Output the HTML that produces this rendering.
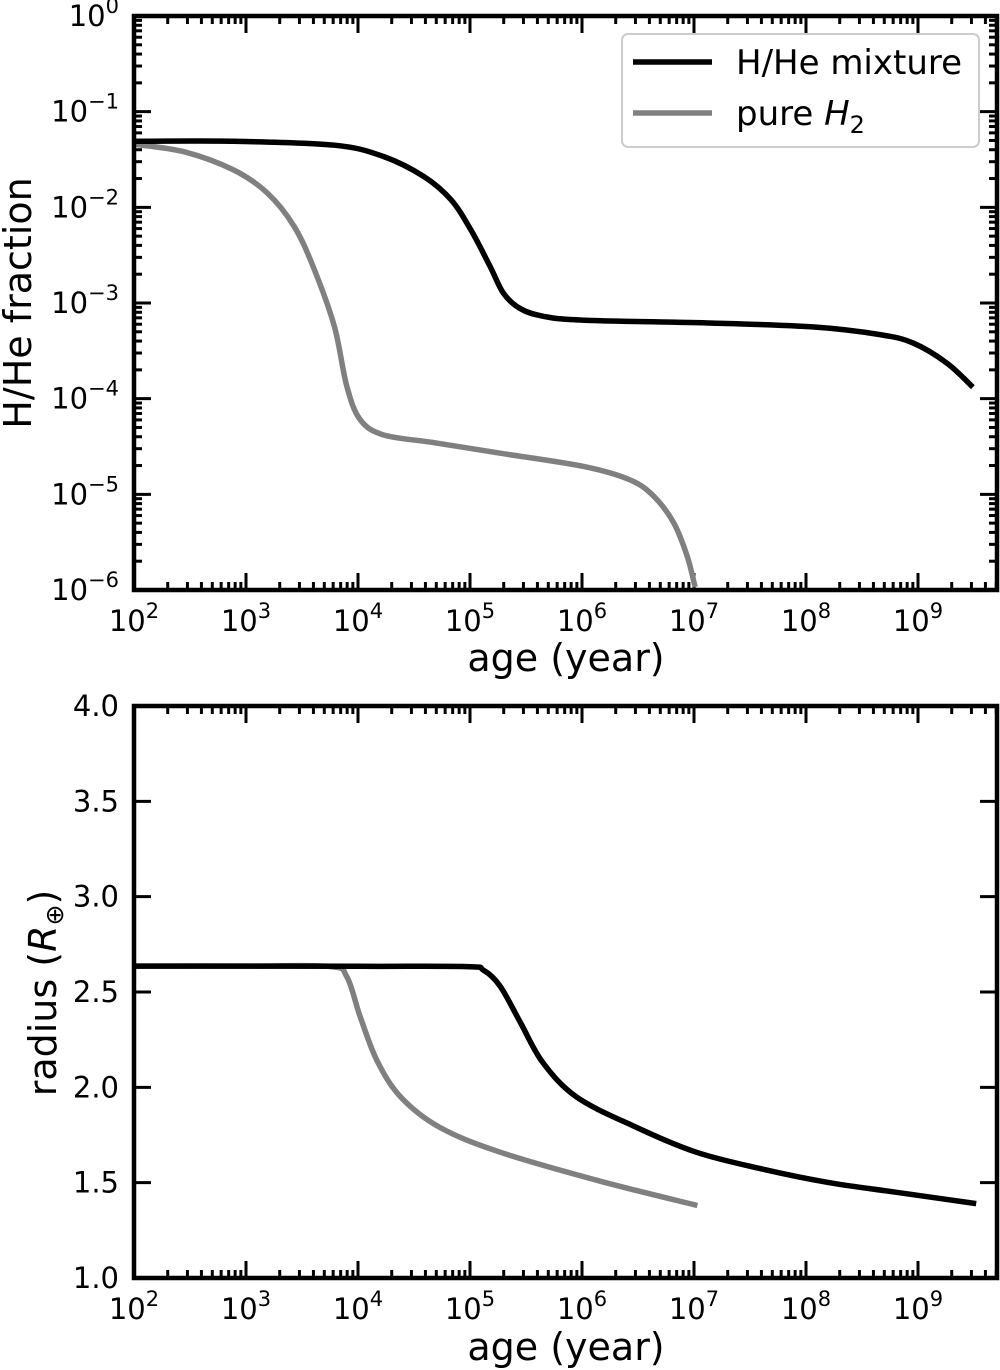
<!DOCTYPE html>
<html><head><meta charset="utf-8"><style>
body{margin:0;background:#fff}
svg{display:block;font-family:"DejaVu Sans","Liberation Sans",sans-serif}
</style></head><body>
<svg id="fig" width="1000" height="1370" viewBox="0 0 1000 1370" xmlns="http://www.w3.org/2000/svg"></svg>
<script>
// data (log10 age in years)
const mixTopX = [2, 2.89, 3.79, 4.23, 4.59, 4.83, 5.01, 5.18, 5.30, 5.45, 5.66, 6.02, 7.17, 8.06, 8.66, 8.96, 9.26, 9.49];
const mixTopY = [-1.31, -1.31, -1.35, -1.47, -1.68, -1.92, -2.24, -2.62, -2.90, -3.06, -3.14, -3.18, -3.21, -3.25, -3.33, -3.42, -3.63, -3.88];
const h2TopX = [2, 2.45, 2.89, 3.19, 3.43, 3.61, 3.79, 3.90, 4.02, 4.23, 4.68, 5.27, 6.02, 6.43, 6.64, 6.82, 6.94, 7.01];
const h2TopY = [-1.34, -1.42, -1.61, -1.85, -2.20, -2.65, -3.25, -3.87, -4.22, -4.38, -4.46, -4.57, -4.71, -4.85, -5.02, -5.30, -5.65, -5.97];
const mixBotX = [2, 4, 4.97, 5.12, 5.27, 5.45, 5.65, 5.95, 6.45, 7.02, 7.62, 8.21, 8.8, 9.52];
const mixBotY = [2.636, 2.635, 2.633, 2.615, 2.53, 2.34, 2.13, 1.95, 1.80, 1.66, 1.57, 1.50, 1.45, 1.39];
const h2BotX = [2, 3, 3.75, 3.90, 4.02, 4.17, 4.38, 4.73, 5.27, 6.15, 7.03];
const h2BotY = [2.636, 2.636, 2.634, 2.58, 2.37, 2.14, 1.95, 1.79, 1.66, 1.51, 1.38];
const xTicks = [2,3,4,5,6,7,8,9];
const topYTicks = [0,-1,-2,-3,-4,-5,-6];
const botYTicks = [1.0,1.5,2.0,2.5,3.0,3.5,4.0];

const NS="http://www.w3.org/2000/svg";
const svg=document.getElementById('fig');
function mk(tag,attrs,parent){const e=document.createElementNS(NS,tag);for(const k in attrs)e.setAttribute(k,attrs[k]);(parent||svg).appendChild(e);return e;}
const L=134,R=997,DEC=112;
const sx=v=>L+(v-2)*DEC;
const topT=16,topB=590, botT=706,botB=1278;
const syTop=v=>topT+(0-v)*(topB-topT)/6;
const syBot=v=>botB-(v-1)*(botB-botT)/3;

function axes(T,B,name,yTicks,sy,fmt,logY,xlabY){
  const g=mk('g',{});
  
  
  for(let d=2; d<=9.7; d++){
    for(let m=1;m<10;m++){
      const v=d+Math.log10(m); if(v>9.7) break;
      const x=sx(v), len=m===1?17:8;
      mk('line',{x1:x,x2:x,y1:B,y2:B-len,stroke:'#000','stroke-width':3},g);
      mk('line',{x1:x,x2:x,y1:T,y2:T+len,stroke:'#000','stroke-width':3},g);
    }
  }
  xTicks.forEach(t=>{
    const tx=mk('text',{x:sx(t),y:B+41,'font-size':29,'text-anchor':'middle'},g);
    
    
    tx.innerHTML='10<tspan dy="-13" font-size="21">'+t+'</tspan>';
  });
  yTicks.forEach(t=>{
    const y=sy(t);
    mk('line',{x1:L,x2:L+17,y1:y,y2:y,stroke:'#000','stroke-width':3},g);
    mk('line',{x1:R,x2:R-17,y1:y,y2:y,stroke:'#000','stroke-width':3},g);
    if(logY && t>-6){for(let m=2;m<10;m++){const yy=sy(t-1+Math.log10(m));
      mk('line',{x1:L,x2:L+8,y1:yy,y2:yy,stroke:'#000','stroke-width':3},g);
      mk('line',{x1:R,x2:R-8,y1:yy,y2:yy,stroke:'#000','stroke-width':3},g);}}
    const tx=mk('text',{x:119,y:y+10,'font-size':29,'text-anchor':'end'},g);
    
    
    tx.innerHTML=fmt(t);
  });
  const x=mk('text',{x:566,y:xlabY,'font-size':38,'text-anchor':'middle'},g);
  
  
  x.textContent='age (year)';
}
function frame(T,B){const r=mk('rect',{x:L,y:T,width:R-L,height:B-T,fill:'none',stroke:'#000','stroke-width':4.5});
  }
function line(xs,ys,sy,color,name){
  const P=xs.map((v,i)=>[sx(v),sy(ys[i])]);
  let d='M'+P[0][0].toFixed(1)+','+P[0][1].toFixed(1);
  for(let i=0;i<P.length-1;i++){
    const p0=P[Math.max(0,i-1)],p1=P[i],p2=P[i+1],p3=P[Math.min(P.length-1,i+2)];
    const c1=[p1[0]+(p2[0]-p0[0])/6,p1[1]+(p2[1]-p0[1])/6];
    const c2=[p2[0]-(p3[0]-p1[0])/6,p2[1]-(p3[1]-p1[1])/6];
    d+='C'+c1.map(n=>n.toFixed(1))+' '+c2.map(n=>n.toFixed(1))+' '+p2.map(n=>n.toFixed(1));
  }
  const p=mk('path',{d:d,fill:'none',stroke:color,'stroke-width':5.5,'stroke-linejoin':'round'});
  
}
axes(topT,topB,'top-axes',topYTicks,syTop,t=>'10<tspan dy="-13" font-size="21">'+(t===0?'0':'−'+(-t))+'</tspan>',true,671);
axes(botT,botB,'bottom-axes',botYTicks,syBot,t=>t.toFixed(1),false,1360);
line(h2TopX,h2TopY,syTop,'#808080','pure-h2-fraction-line');
line(mixTopX,mixTopY,syTop,'#000','hhe-fraction-line');
line(h2BotX,h2BotY,syBot,'#808080','pure-h2-radius-line');
line(mixBotX,mixBotY,syBot,'#000','hhe-radius-line');
frame(topT,topB);frame(botT,botB);
let yl=mk('text',{x:0,y:0,'font-size':38,'text-anchor':'middle',transform:'translate(31,303) rotate(-90)'});

yl.textContent='H/He fraction';
yl=mk('text',{x:0,y:0,'font-size':38,'text-anchor':'middle',transform:'translate(56,993) rotate(-90)'});

yl.innerHTML='radius (<tspan font-style="italic">R</tspan><tspan font-size="25" dy="7">⊕</tspan><tspan dy="-7">)</tspan>';
const lg=mk('g',{});

mk('rect',{x:622,y:34,width:357,height:113,rx:6,fill:'#fff',stroke:'#ccc','stroke-width':2},lg);
mk('line',{x1:633,x2:712,y1:62,y2:62,stroke:'#000','stroke-width':5.5},lg);
mk('line',{x1:633,x2:712,y1:113,y2:113,stroke:'#808080','stroke-width':5.5},lg);
let t=mk('text',{x:736,y:74,'font-size':34},lg);t.textContent='H/He mixture';

t=mk('text',{x:736,y:125,'font-size':34},lg);t.innerHTML='pure <tspan font-style="italic">H</tspan><tspan font-size="24" dy="8">2</tspan>';

</script>
</body></html>
